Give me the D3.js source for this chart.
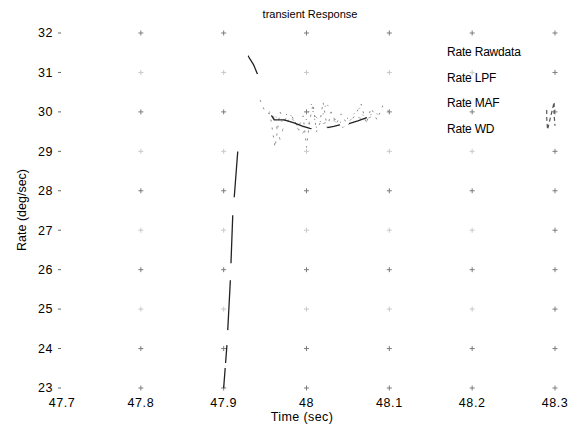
<!DOCTYPE html>
<html>
<head>
<meta charset="utf-8">
<script src="https://cdn.jsdelivr.net/npm/d3@7"></script>
<style>
  body { margin: 0; background: #fff; }
  text { font-family: "Liberation Sans", Arial, sans-serif; fill: #000; }
</style>
</head>
<body>
<div id="chart"></div>
<script>
// axis ticks
const xTicks = [47.7, 47.8, 47.9, 48, 48.1, 48.2, 48.3];
const yTicks = [23, 24, 25, 26, 27, 28, 29, 30, 31, 32];

// LPF - the dark smooth trace
const timeLPF = [47.900, 47.904, 47.908, 47.911, 47.913, 47.917, 47.921, 47.926, 47.930, 47.936,
                 47.941, 47.947, 47.953, 47.958, 47.961, 47.967, 47.973, 47.985, 47.995, 48.004,
                 48.010, 48.018, 48.025, 48.033, 48.040, 48.051, 48.062, 48.072, 48.085, 48.095];
const rateLPF = [23.0, 24.1, 25.7, 27.4, 27.9, 29.0, 30.2, 31.0, 31.4, 31.2,
                 30.95, 30.4, 30.1, 29.9, 29.8, 29.8, 29.8, 29.72, 29.64, 29.58,
                 29.56, 29.57, 29.6, 29.63, 29.67, 29.7, 29.77, 29.85, 29.93, 30.0];

// raw data - noisy, mostly faded in the scan
const timeRaw = [47.944, 47.950, 47.956, 47.962, 47.968, 47.975, 47.982, 47.990, 47.996, 48.000,
                 48.004, 48.008, 48.012, 48.016, 48.020, 48.025, 48.030, 48.036, 48.042, 48.050,
                 48.058, 48.066, 48.072, 48.078, 48.085, 48.092, 48.100];
const rateRaw = [30.3, 30.0, 29.95, 29.1, 30.0, 29.7, 29.9, 29.6, 29.9, 29.1,
                 29.8, 30.2, 29.5, 29.7, 30.25, 29.6, 30.0, 29.7, 29.95, 29.65,
                 29.9, 30.2, 29.7, 30.1, 29.8, 30.15, 30.0];
// the bit of raw data still visible at the right edge
const timeRawEnd = [48.290, 48.290, 48.291, 48.299, 48.299, 48.300];
const rateRawEnd = [30.05, 29.85, 29.55, 30.25, 29.9, 29.65];

// MAF
const timeMAF = [47.955, 47.962, 47.970, 47.978, 47.985, 47.992, 47.998, 48.006, 48.012, 48.018,
                 48.024, 48.030, 48.038, 48.046, 48.055, 48.064, 48.072, 48.080, 48.090];
const rateMAF = [30.0, 29.9, 29.75, 30.0, 29.8, 29.5, 29.7, 30.2, 29.6, 29.8,
                 30.25, 29.95, 29.7, 29.8, 29.9, 30.1, 29.75, 30.0, 29.9];

// WD
const timeWD = [47.960, 47.968, 47.976, 47.984, 47.994, 48.002, 48.010, 48.020, 48.032, 48.044, 48.058, 48.070, 48.086];
const rateWD = [29.9, 29.3, 29.9, 29.8, 29.4, 29.7, 29.9, 29.7, 29.8, 29.6, 29.9, 29.8, 29.95];

const legendLabels = ["Rate Rawdata", "Rate LPF", "Rate MAF", "Rate WD"];

const width = 579, height = 430;
const margin = { top: 33, right: 24, bottom: 42, left: 58 };

const svg = d3.select("#chart").append("svg")
    .attr("width", width)
    .attr("height", height);

const x = d3.scaleLinear()
    .domain([47.7, 48.3])
    .range([margin.left, width - margin.right]);

const y = d3.scaleLinear()
    .domain([23, 32])
    .range([height - margin.bottom, margin.top]);

// grid: only the crossing points survive in the scan
const gridPts = [];
xTicks.slice(1).forEach(t => yTicks.forEach(r => gridPts.push([t, r])));
const grid = svg.append("g").attr("stroke", "#666").attr("stroke-width", 1);
grid.selectAll("path.cross")
    .data(gridPts)
    .enter().append("path")
    .attr("class", "cross")
    .attr("d", d => `M${x(d[0]) - 2.5},${y(d[1])}h5M${x(d[0])},${y(d[1]) - 2.5}v5`)
    .attr("opacity", d => (d[1] % 2 === 0 || d[0] > 48.25 || d[1] === 23) ? 0.85 : 0.35);

// left axis tick stubs
grid.selectAll("line.ytick")
    .data(yTicks)
    .enter().append("line")
    .attr("class", "ytick")
    .attr("x1", x(47.7)).attr("x2", x(47.7) + 3)
    .attr("y1", d => y(d)).attr("y2", d => y(d));

// tick labels
svg.append("g").selectAll("text")
    .data(yTicks)
    .enter().append("text")
    .attr("x", margin.left - 5)
    .attr("y", d => y(d))
    .attr("dy", "0.35em")
    .attr("text-anchor", "end")
    .style("font-size", "12.5px")
    .style("letter-spacing", "0.5px")
    .text(d => d);

svg.append("g").selectAll("text")
    .data(xTicks)
    .enter().append("text")
    .attr("x", d => x(d) + (d === 47.7 ? 4 : 0))
    .attr("y", height - margin.bottom + 19)
    .attr("text-anchor", "middle")
    .style("font-size", "12.5px")
    .style("letter-spacing", "0.6px")
    .text(d => d3.format("")(d));

// series
const line = d3.line()
    .x(d => x(d[0]))
    .y(d => y(d[1]));

const zip = (ts, rs) => ts.map((t, i) => [t, rs[i]]);

svg.append("path")
    .datum(zip(timeRaw, rateRaw))
    .attr("fill", "none")
    .attr("stroke", "#888")
    .attr("stroke-width", 1)
    .attr("stroke-dasharray", "2,6")
    .attr("d", line);

svg.append("path")
    .datum(zip(timeRawEnd, rateRawEnd))
    .attr("fill", "none")
    .attr("stroke", "#555")
    .attr("stroke-width", 1.2)
    .attr("stroke-dasharray", "4,3")
    .attr("d", line);

svg.append("path")
    .datum(zip(timeMAF, rateMAF))
    .attr("fill", "none")
    .attr("stroke", "#777")
    .attr("stroke-width", 1)
    .attr("stroke-dasharray", "1,7")
    .attr("d", line);

svg.append("path")
    .datum(zip(timeWD, rateWD))
    .attr("fill", "none")
    .attr("stroke", "#aaa")
    .attr("stroke-width", 1)
    .attr("stroke-dasharray", "3,8")
    .attr("d", line);

// scan has eaten parts of the LPF trace, the dash pattern leaves those gaps
svg.append("path")
    .datum(zip(timeLPF, rateLPF))
    .attr("fill", "none")
    .attr("stroke", "#222")
    .attr("stroke-width", 1.3)
    .attr("stroke-dasharray", "20,5,18,15,50,17,48,18,46,95,20,44,44,16,13,9,19,100")
    .attr("d", line);

// legend (line samples lost in the scan, only labels)
svg.append("g").selectAll("text")
    .data(legendLabels)
    .enter().append("text")
    .attr("x", 447)
    .attr("y", (d, i) => 56 + i * 25.6)
    .style("font-size", "12px")
    .style("letter-spacing", "-0.2px")
    .text(d => d);

// titles
svg.append("text")
    .attr("x", 310)
    .attr("y", 18)
    .attr("text-anchor", "middle")
    .style("font-size", "11px")
    .text("transient Response");

svg.append("text")
    .attr("x", 302)
    .attr("y", 421)
    .attr("text-anchor", "middle")
    .style("font-size", "12.5px")
    .style("letter-spacing", "0.4px")
    .text("Time (sec)");

svg.append("text")
    .attr("transform", "translate(26,210) rotate(-90)")
    .attr("text-anchor", "middle")
    .style("font-size", "12.5px")
    .text("Rate (deg/sec)");
</script>
</body>
</html>
